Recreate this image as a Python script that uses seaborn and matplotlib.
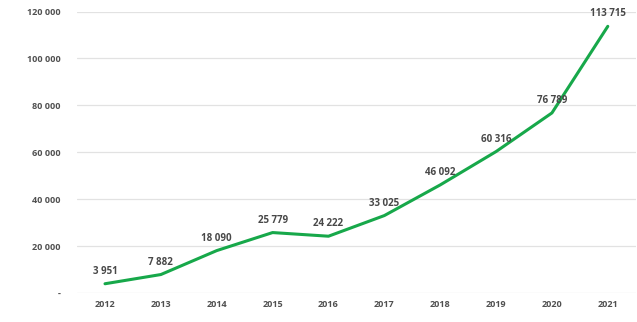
import matplotlib
matplotlib.use("Agg")
import matplotlib.pyplot as plt
import seaborn as sns
import pandas as pd

years = ["2012", "2013", "2014", "2015", "2016", "2017", "2018", "2019", "2020", "2021"]
values = [3951, 7882, 18090, 25779, 24222, 33025, 46092, 60316, 76789, 113715]
value_labels = ["3 951", "7 882", "18 090", "25 779", "24 222", "33 025", "46 092", "60 316", "76 789", "113 715"]
y_ticks = [0, 20000, 40000, 60000, 80000, 100000, 120000]
y_tick_labels = ["-", "20 000", "40 000", "60 000", "80 000", "100 000", "120 000"]

sns.set_theme(style="white")
plt.rcParams['font.family'] = ['Open Sans', 'DejaVu Sans']

df = pd.DataFrame({"year": years, "value": values})

fig = plt.figure(figsize=(6.37, 3.22), dpi=100)
ax = fig.add_axes([0.121, 0.09, 0.877, 0.874])
for y in y_ticks:
    ax.axhline(y, color="#e2e2e2", lw=0.9, zorder=0)
sns.lineplot(data=df, x="year", y="value", ax=ax, color="#17a84a", lw=2.2, sort=False)

for i, (v, lab) in enumerate(zip(values, value_labels)):
    ax.annotate(lab, (i, v), xytext=(0, 5), textcoords="offset points",
                ha="center", va="bottom", fontsize=7, fontweight="bold", color="#484848")

ax.set_xlim(-0.5, 9.5)
ax.set_ylim(0, 120000)
ax.set_yticks(y_ticks)
ax.set_yticklabels(y_tick_labels)
ax.set_xlabel("")
ax.set_ylabel("")
for s in ax.spines.values():
    s.set_visible(False)
ax.tick_params(axis="both", length=0, labelsize=6.5, labelcolor="#505050")
ax.tick_params(axis="y", pad=12)
ax.tick_params(axis="x", pad=5)
for t in ax.get_xticklabels() + ax.get_yticklabels():
    t.set_fontweight("bold")

fig.savefig("out.png", dpi=100)
